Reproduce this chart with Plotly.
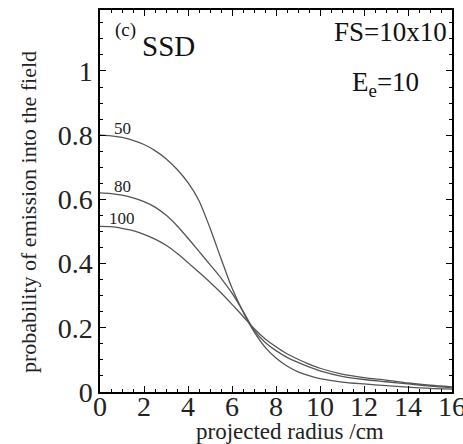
import plotly.graph_objects as go

# data
radius = [0, 0.5, 1, 1.5, 2, 2.5, 3, 3.5, 4, 4.5, 5, 5.5, 6, 6.5, 7, 7.5, 8, 8.5, 9, 9.5, 10, 11, 12, 13, 14, 15, 16]
ssd_50 = [0.800, 0.798, 0.793, 0.784, 0.771, 0.752, 0.727, 0.694, 0.652, 0.596, 0.511, 0.416, 0.324,
          0.250, 0.188, 0.140, 0.106, 0.081, 0.063, 0.051, 0.042, 0.031, 0.025, 0.020, 0.015, 0.011, 0.009]
ssd_80 = [0.620, 0.618, 0.613, 0.605, 0.593, 0.576, 0.551, 0.518, 0.479, 0.438, 0.397, 0.355, 0.308,
          0.252, 0.193, 0.155, 0.129, 0.108, 0.092, 0.078, 0.066, 0.049, 0.039, 0.032, 0.025, 0.018, 0.013]
ssd_100 = [0.516, 0.515, 0.510, 0.503, 0.491, 0.476, 0.457, 0.432, 0.403, 0.373, 0.342, 0.309, 0.273,
           0.236, 0.198, 0.166, 0.141, 0.119, 0.102, 0.087, 0.074, 0.056, 0.045, 0.037, 0.028, 0.021, 0.016]
series = {"50": ssd_50, "80": ssd_80, "100": ssd_100}
label_y = {"50": 0.822, "80": 0.640, "100": 0.540}

x_ticks = [0, 2, 4, 6, 8, 10, 12, 14, 16]
y_ticks = [0, 0.2, 0.4, 0.6, 0.8, 1]
y_tick_text = ["0", "0.2", "0.4", "0.6", "0.8", "1"]

FONT = "Liberation Serif, Times New Roman, serif"
fig = go.Figure()
for name, vals in series.items():
    fig.add_trace(go.Scatter(x=radius, y=vals, mode="lines", name=name,
                             line=dict(color="#555555", width=1.3, shape="spline", smoothing=0.8),
                             showlegend=False))
    fig.add_annotation(x=1.0, y=label_y[name], xref="x", yref="y", text=name, showarrow=False,
                       font=dict(family=FONT, size=17, color="#222"))

fig.add_annotation(x=1.15, y=1.128, xref="x", yref="y", text="(c)", showarrow=False,
                   font=dict(family=FONT, size=19, color="#111"))
fig.add_annotation(x=1.8, y=1.078, xref="x", yref="y", text="SSD", showarrow=False, xanchor="left",
                   font=dict(family=FONT, size=29, color="#111"))
fig.add_annotation(x=15.85, y=1.12, xref="x", yref="y", text="FS=10x10", showarrow=False,
                   xanchor="right", font=dict(family=FONT, size=27, color="#111"))
fig.add_annotation(x=14.6, y=0.96, xref="x", yref="y", text="E<sub>e</sub>=10", showarrow=False,
                   xanchor="right", font=dict(family=FONT, size=27, color="#111"))

L, R, T, B = 100, 11, 10, 52
W, H = 463, 444
pw, ph = W - L - R, H - T - B
fig.add_annotation(x=(290 - L) / pw, y=(H - B - 431) / ph, xref="paper", yref="paper",
                   text="projected radius /cm", showarrow=False, xanchor="center", yanchor="middle",
                   font=dict(family=FONT, size=23, color="#222"))
fig.add_annotation(x=(28 - L) / pw, y=(H - B - 212) / ph, xref="paper", yref="paper",
                   text="probability of emission into the field", showarrow=False, textangle=-90,
                   xanchor="center", yanchor="middle",
                   font=dict(family=FONT, size=22, color="#222"))

axis_common = dict(showline=True, linecolor="black", linewidth=1.5, mirror="ticks",
                   ticks="inside", tickcolor="black", showgrid=False, zeroline=False,
                   automargin=False, ticklabeloverflow="allow",
                   tickfont=dict(family=FONT, size=28, color="#222"))
fig.update_xaxes(range=[0, 16], tickvals=x_ticks, ticklen=6, ticklabelstandoff=-11,
                 minor=dict(ticks="inside", dtick=0.5, ticklen=3, tickcolor="black"),
                 **axis_common)
fig.update_yaxes(range=[0, 1.19], tickvals=y_ticks, ticktext=y_tick_text, ticklen=6,
                 ticksuffix="&nbsp;&nbsp;",
                 minor=dict(ticks="inside", dtick=0.05, ticklen=3, tickcolor="black"),
                 **axis_common)
fig.update_layout(width=W, height=H, margin=dict(l=L, r=R, t=T, b=B),
                  plot_bgcolor="white", paper_bgcolor="white")
fig.write_html("out.html", config={"displayModeBar": False},
               post_script="document.body.style.margin='0px';")
